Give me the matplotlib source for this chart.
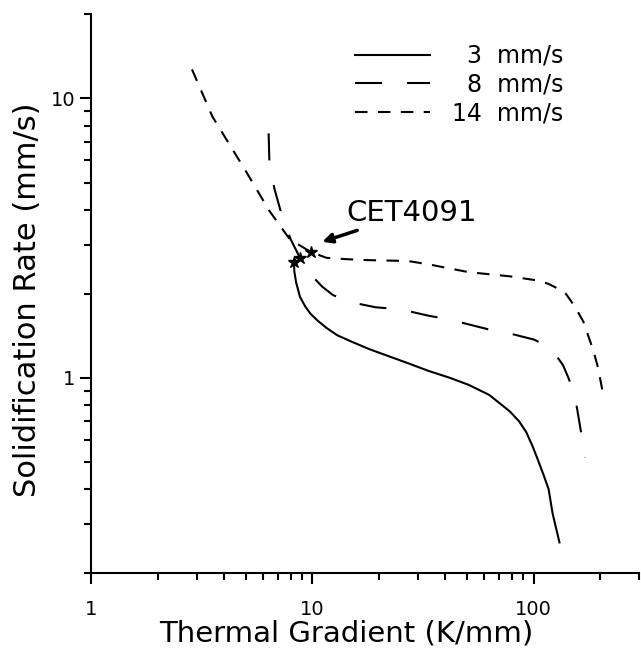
import matplotlib.pyplot as plt
import numpy as np

# 3 mm/s
g3 = [8.26, 8.3, 8.45, 8.8, 9.3, 9.8, 10.6, 11.6, 13, 15, 18, 21.9, 27, 33.5, 42, 51, 63, 78, 86, 92.7, 99, 105, 111, 117, 122, 131]
r3 = [2.6, 2.4, 2.2, 1.95, 1.8, 1.70, 1.6, 1.51, 1.42, 1.35, 1.27, 1.20, 1.13, 1.06, 1.0, 0.944, 0.87, 0.76, 0.70, 0.64, 0.57, 0.506, 0.45, 0.40, 0.327, 0.258]

# 8 mm/s
g8 = [6.35, 6.4, 6.74, 7.28, 7.99, 8.8, 9.8, 11.1, 12.4, 14.3, 19.3, 25, 33.5, 41.4, 63, 81.6, 101, 114.5, 125, 136, 144.6, 152, 157, 164, 171]
r8 = [7.5, 5.93, 4.76, 3.83, 3.13, 2.69, 2.35, 2.12, 1.98, 1.88, 1.79, 1.76, 1.67, 1.62, 1.49, 1.43, 1.37, 1.30, 1.22, 1.11, 0.99, 0.88, 0.785, 0.64, 0.52]

# 14 mm/s
g14 = [2.86, 3.54, 4.97, 6.4, 7.92, 9.87, 11.6, 14.3, 17.7, 27.1, 33.5, 51, 78, 105, 117, 130, 140, 148, 157, 168, 177, 186, 195, 205]
r14 = [12.7, 8.6, 5.55, 3.96, 3.13, 2.82, 2.69, 2.66, 2.64, 2.62, 2.55, 2.39, 2.31, 2.23, 2.17, 2.08, 2.0, 1.88, 1.75, 1.59, 1.41, 1.26, 1.10, 0.90]

# CET points
cet_g = [8.26, 8.8, 9.87]
cet_r = [2.6, 2.69, 2.82]

labels = ["\u20073  mm/s", "\u20078  mm/s", "14  mm/s"]

fig = plt.figure(figsize=(6.41, 6.5), dpi=100)
ax = fig.add_axes([0.142, 0.118, 0.855, 0.86])

ax.plot(g3, r3, color="black", lw=1.5, label=labels[0])
ax.plot(g8, r8, color="black", lw=1.5, dashes=(13, 12), label=labels[1])
ax.plot(g14, r14, color="black", lw=1.5, dashes=(6, 5), label=labels[2])
ax.plot(cet_g, cet_r, ls="none", marker="*", color="black", ms=9)

ax.set_xscale("log")
ax.set_yscale("log")
ax.set_xlim(1, 300)
ax.set_ylim(0.2, 20)

ax.spines["top"].set_visible(False)
ax.spines["right"].set_visible(False)
ax.spines["left"].set_linewidth(1.5)
ax.spines["bottom"].set_linewidth(1.5)

ax.set_xticks([1, 10, 100])
ax.set_xticklabels(["1", "10", "100"])
ax.set_yticks([1, 10])
ax.set_yticklabels(["1", "10"])
ax.tick_params(which="major", length=8, width=1.5, labelsize=14, direction="out")
ax.tick_params(which="minor", length=5, width=1.5, direction="out")
ax.tick_params(axis="y", which="minor", labelleft=False)
ax.tick_params(axis="x", which="minor", labelbottom=False)
ax.tick_params(axis="x", pad=11)

ax.set_xlabel("Thermal Gradient (K/mm)", fontsize=21, va="top")
ax.xaxis.set_label_coords(0.465, -0.083)
ax.set_ylabel("Solidification Rate (mm/s)", fontsize=22, labelpad=2)
ax.yaxis.set_label_coords(-0.09, 0.49)

ax.annotate("CET4091", xy=(11.1, 3.07), xytext=(14.2, 3.9),
            fontsize=21, va="center", ha="left",
            arrowprops=dict(arrowstyle="-|>", color="black", lw=2.5,
                            mutation_scale=14, shrinkA=2, shrinkB=0))

leg = ax.legend(loc="upper right", bbox_to_anchor=(0.9, 0.985), frameon=False,
                fontsize=17, handlelength=3.2, handletextpad=0.9,
                labelspacing=0.2)

plt.savefig("out.png", dpi=100)
